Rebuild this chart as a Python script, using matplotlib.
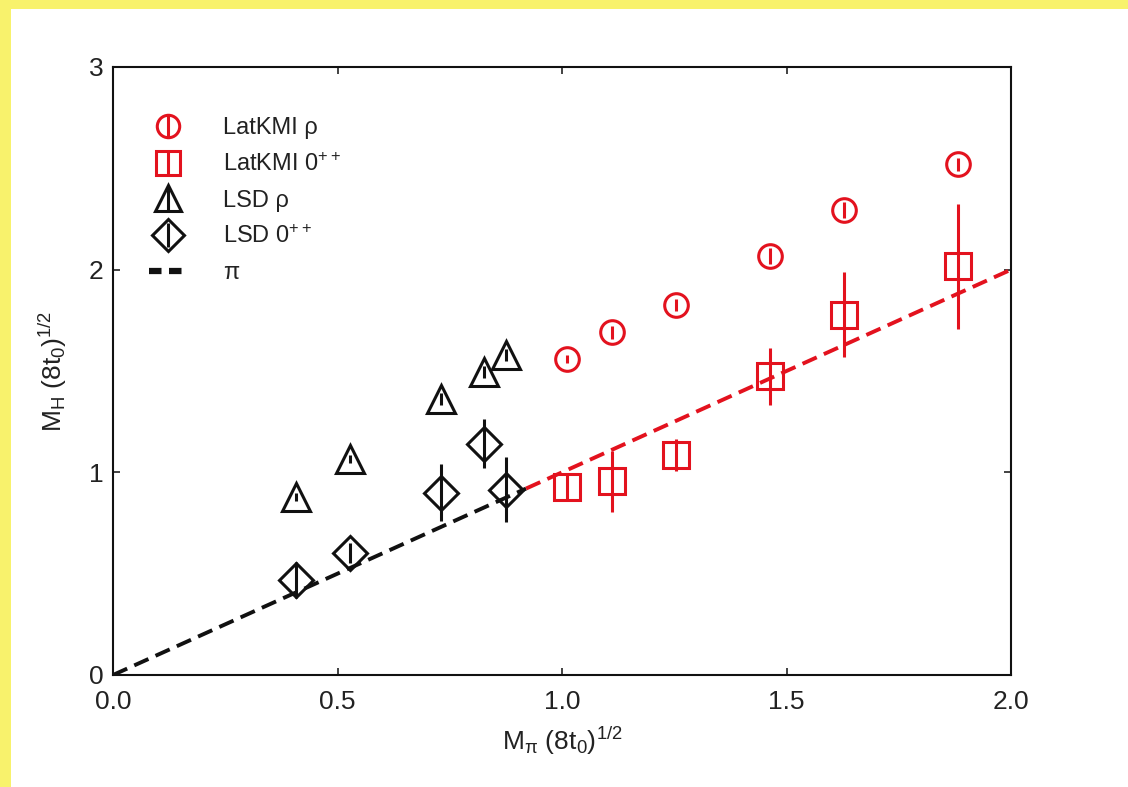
import matplotlib
matplotlib.use("Agg")
import matplotlib.pyplot as plt
from matplotlib.patches import Rectangle
import numpy as np

plt.rcParams['font.family'] = ['Liberation Sans', 'DejaVu Sans']
plt.rcParams['mathtext.fontset'] = 'custom'
plt.rcParams['mathtext.rm'] = 'Liberation Sans'
plt.rcParams['mathtext.it'] = 'Liberation Sans'
plt.rcParams['mathtext.default'] = 'regular'

# LatKMI data (M_pi sqrt(8 t0), M_H sqrt(8 t0))
kmi_mpi = [1.012, 1.112, 1.253, 1.463, 1.628, 1.883]
kmi_rho = [1.559, 1.690, 1.824, 2.066, 2.296, 2.519]
kmi_rho_err = [0.02, 0.03, 0.03, 0.04, 0.04, 0.03]
kmi_scalar = [0.930, 0.955, 1.086, 1.473, 1.778, 2.016]
kmi_scalar_err = [0.06, 0.15, 0.08, 0.14, 0.21, 0.31]

# LSD data
lsd_mpi = [0.407, 0.527, 0.731, 0.826, 0.876]
lsd_rho = [0.880, 1.065, 1.363, 1.493, 1.580]
lsd_rho_err = [0.02, 0.02, 0.03, 0.03, 0.03]
lsd_scalar = [0.469, 0.601, 0.900, 1.141, 0.914]
lsd_scalar_err = [0.09, 0.05, 0.14, 0.12, 0.16]

# M_pi line
pi_black = [0.0, 0.92]
pi_red = [0.92, 2.0]

x_ticks = [0.0, 0.5, 1.0, 1.5, 2.0]
x_ticklabels = ['0.0', '0.5', '1.0', '1.5', '2.0']
y_ticks = [0, 1, 2, 3]
y_ticklabels = ['0', '1', '2', '3']

RED = '#e3121e'
BLACK = '#111111'

fig = plt.figure(figsize=(11.28, 7.87), dpi=100)
fig.patch.set_facecolor('white')
# yellow slide border on the left and top
fig.patches.append(Rectangle((0, 0), 11 / 1128, 1, transform=fig.transFigure,
                             facecolor='#f8f26c', edgecolor='none', zorder=-5))
fig.patches.append(Rectangle((0, 1 - 9 / 787), 1, 9 / 787, transform=fig.transFigure,
                             facecolor='#f8f26c', edgecolor='none', zorder=-5))

ax = fig.add_axes([113 / 1128, 1 - 675 / 787, (1011 - 113) / 1128, (675 - 67) / 787])

dash = (4, 2)
ax.plot(pi_black, pi_black, color=BLACK, lw=2.8, dashes=dash, zorder=2)
ax.plot(pi_red, pi_red, color=RED, lw=2.8, dashes=dash, zorder=2)

common = dict(linestyle='none', capsize=0, elinewidth=2.2, markeredgewidth=2.2,
              markerfacecolor='none', zorder=3)
h1 = ax.errorbar(kmi_mpi, kmi_rho, yerr=kmi_rho_err, fmt='o', ms=17,
                 color=RED, markeredgecolor=RED, **common)
h2 = ax.errorbar(kmi_mpi, kmi_scalar, yerr=kmi_scalar_err, fmt='s', ms=18.5,
                 color=RED, markeredgecolor=RED, **common)
h3 = ax.errorbar(lsd_mpi, lsd_rho, yerr=lsd_rho_err, fmt='^', ms=20,
                 color=BLACK, markeredgecolor=BLACK, **common)
h4 = ax.errorbar(lsd_mpi, lsd_scalar, yerr=lsd_scalar_err, fmt='D', ms=17,
                 color=BLACK, markeredgecolor=BLACK, **common)
h5, = ax.plot([], [], color=BLACK, lw=4.5, dashes=(2, 1.2))

ax.set_xlim(0, 2)
ax.set_ylim(0, 3)
ax.set_xticks(x_ticks)
ax.set_xticklabels(x_ticklabels)
ax.set_yticks(y_ticks)
ax.set_yticklabels(y_ticklabels)
ax.tick_params(direction='in', top=True, right=True, length=5, width=1.2,
               labelsize=19, colors='#222222')
ax.tick_params(axis='x', pad=11)
ax.tick_params(axis='y', pad=7)
for s in ax.spines.values():
    s.set_linewidth(1.5)
    s.set_color('#111111')

ax.set_xlabel(r'M$_\pi$ (8t$_0$)$^{1/2}$', fontsize=19, color='#222222', labelpad=8)
ax.set_ylabel(r'M$_H$ (8t$_0$)$^{1/2}$', fontsize=19, color='#222222', labelpad=14)

leg = ax.legend([h1, h2, h3, h4, h5],
                [r'LatKMI ρ', r'LatKMI 0$^{++}$', r'LSD ρ', r'LSD 0$^{++}$', r'π'],
                loc='upper left', bbox_to_anchor=(0.016, 0.952), frameon=False,
                fontsize=17, handlelength=1.6, handletextpad=1.55, labelspacing=0.58,
                markerscale=0.95)
for t in leg.get_texts():
    t.set_color('#222222')

fig.savefig('out.png', dpi=100, facecolor=fig.get_facecolor())
